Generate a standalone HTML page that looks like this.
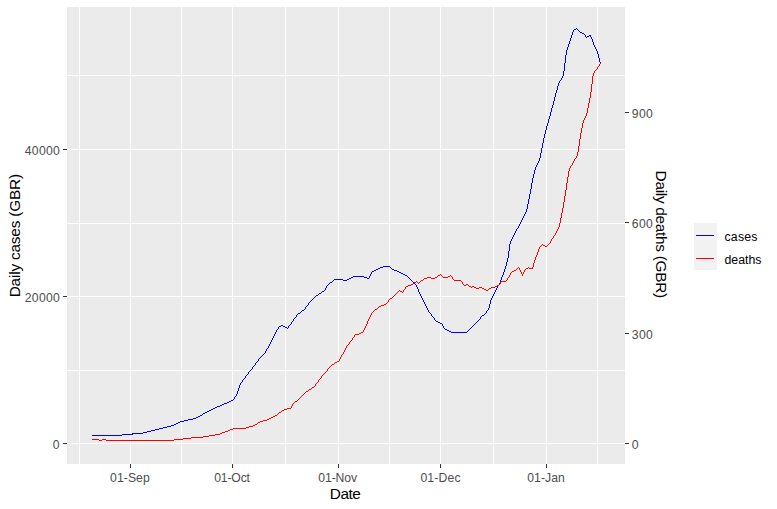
<!DOCTYPE html>
<html><head><meta charset="utf-8"><title>plot</title>
<style>
html,body{margin:0;padding:0;background:#fff;}
body{width:777px;height:509px;overflow:hidden;}
svg{display:block;font-family:"Liberation Sans",sans-serif;}
.ax{font-size:12.2px;fill:#4d4d4d;}
.ti{font-size:15.4px;fill:#000;}
.lg{font-size:12.3px;fill:#000;}
</style></head><body>
<svg width="777" height="509" viewBox="0 0 777 509">
<rect x="0" y="0" width="777" height="509" fill="#ffffff"/>
<g shape-rendering="crispEdges">
<rect x="67" y="7" width="558" height="457" fill="#ebebeb"/>
<rect x="67" y="370" width="558" height="1" fill="#fff"/>
<rect x="67" y="223" width="558" height="1" fill="#fff"/>
<rect x="67" y="75" width="558" height="1" fill="#fff"/>
<rect x="67" y="443" width="558" height="1" fill="#fff"/>
<rect x="67" y="296" width="558" height="1" fill="#fff"/>
<rect x="67" y="149" width="558" height="1" fill="#fff"/>
<rect x="79" y="7" width="1" height="457" fill="#fff"/>
<rect x="181" y="7" width="1" height="457" fill="#fff"/>
<rect x="285" y="7" width="1" height="457" fill="#fff"/>
<rect x="389" y="7" width="1" height="457" fill="#fff"/>
<rect x="493" y="7" width="1" height="457" fill="#fff"/>
<rect x="597" y="7" width="1" height="457" fill="#fff"/>
<rect x="130" y="7" width="1" height="457" fill="#fff"/>
<rect x="232" y="7" width="1" height="457" fill="#fff"/>
<rect x="338" y="7" width="1" height="457" fill="#fff"/>
<rect x="440" y="7" width="1" height="457" fill="#fff"/>
<rect x="546" y="7" width="1" height="457" fill="#fff"/>
<rect x="63" y="443" width="4" height="1" fill="#333"/>
<rect x="63" y="296" width="4" height="1" fill="#333"/>
<rect x="63" y="149" width="4" height="1" fill="#333"/>
<rect x="625" y="443" width="4" height="1" fill="#333"/>
<rect x="625" y="333" width="4" height="1" fill="#333"/>
<rect x="625" y="222" width="4" height="1" fill="#333"/>
<rect x="625" y="112" width="4" height="1" fill="#333"/>
<rect x="130" y="464" width="1" height="4" fill="#333"/>
<rect x="232" y="464" width="1" height="4" fill="#333"/>
<rect x="338" y="464" width="1" height="4" fill="#333"/>
<rect x="440" y="464" width="1" height="4" fill="#333"/>
<rect x="546" y="464" width="1" height="4" fill="#333"/>
<rect x="694" y="223" width="23" height="47" fill="#f2f2f2"/>
<rect x="696" y="235" width="18" height="1" fill="#0000ff"/>
<rect x="696" y="258" width="18" height="1" fill="#ff0000"/>
<path d="M576 28h1v1h-1zM574 29h2v1h-2zM577 29h1v1h-1zM573 30h1v1h-1zM578 30h1v1h-1zM573 31h1v1h-1zM579 31h1v1h-1zM572 32h1v1h-1zM580 32h2v1h-2zM572 33h1v1h-1zM582 33h2v1h-2zM572 34h1v1h-1zM584 34h1v1h-1zM571 35h1v1h-1zM585 35h1v1h-1zM589 35h2v1h-2zM571 36h1v1h-1zM585 36h1v1h-1zM587 36h2v1h-2zM590 36h1v1h-1zM571 37h1v1h-1zM586 37h1v1h-1zM591 37h1v1h-1zM570 38h1v1h-1zM591 38h1v1h-1zM570 39h1v1h-1zM592 39h1v1h-1zM570 40h1v1h-1zM592 40h1v1h-1zM569 41h1v1h-1zM592 41h1v1h-1zM569 42h1v1h-1zM593 42h1v1h-1zM569 43h1v1h-1zM593 43h1v1h-1zM568 44h1v1h-1zM593 44h1v1h-1zM568 45h1v1h-1zM594 45h1v1h-1zM568 46h1v1h-1zM594 46h1v1h-1zM567 47h1v1h-1zM595 47h1v1h-1zM567 48h1v1h-1zM595 48h1v1h-1zM567 49h1v1h-1zM596 49h1v1h-1zM566 50h1v1h-1zM596 50h1v1h-1zM566 51h1v1h-1zM597 51h1v1h-1zM566 52h1v1h-1zM597 52h1v1h-1zM566 53h1v1h-1zM597 53h1v1h-1zM566 54h1v1h-1zM598 54h1v1h-1zM565 55h1v1h-1zM598 55h1v1h-1zM565 56h1v1h-1zM598 56h1v1h-1zM565 57h1v1h-1zM598 57h1v1h-1zM565 58h1v1h-1zM599 58h1v1h-1zM565 59h1v1h-1zM599 59h1v1h-1zM565 60h1v1h-1zM599 60h1v1h-1zM565 61h1v1h-1zM599 61h1v1h-1zM565 62h1v1h-1zM600 62h1v1h-1zM564 63h1v1h-1zM600 63h1v1h-1zM564 64h1v1h-1zM564 65h1v1h-1zM564 66h1v1h-1zM564 67h1v1h-1zM564 68h1v1h-1zM564 69h1v1h-1zM564 70h1v1h-1zM563 71h1v1h-1zM563 72h1v1h-1zM563 73h1v1h-1zM563 74h1v1h-1zM563 75h1v1h-1zM562 76h1v1h-1zM562 77h1v1h-1zM561 78h1v1h-1zM561 79h1v1h-1zM560 80h1v1h-1zM559 81h1v1h-1zM559 82h1v1h-1zM558 83h1v1h-1zM558 84h1v1h-1zM558 85h1v1h-1zM557 86h1v1h-1zM557 87h1v1h-1zM557 88h1v1h-1zM557 89h1v1h-1zM556 90h1v1h-1zM556 91h1v1h-1zM556 92h1v1h-1zM555 93h1v1h-1zM555 94h1v1h-1zM555 95h1v1h-1zM555 96h1v1h-1zM554 97h1v1h-1zM554 98h1v1h-1zM554 99h1v1h-1zM554 100h1v1h-1zM553 101h1v1h-1zM553 102h1v1h-1zM553 103h1v1h-1zM553 104h1v1h-1zM552 105h1v1h-1zM552 106h1v1h-1zM552 107h1v1h-1zM551 108h1v1h-1zM551 109h1v1h-1zM551 110h1v1h-1zM551 111h1v1h-1zM550 112h1v1h-1zM550 113h1v1h-1zM550 114h1v1h-1zM550 115h1v1h-1zM549 116h1v1h-1zM549 117h1v1h-1zM549 118h1v1h-1zM548 119h1v1h-1zM548 120h1v1h-1zM548 121h1v1h-1zM548 122h1v1h-1zM547 123h1v1h-1zM547 124h1v1h-1zM547 125h1v1h-1zM546 126h1v1h-1zM546 127h1v1h-1zM546 128h1v1h-1zM546 129h1v1h-1zM545 130h1v1h-1zM545 131h1v1h-1zM545 132h1v1h-1zM545 133h1v1h-1zM544 134h1v1h-1zM544 135h1v1h-1zM544 136h1v1h-1zM544 137h1v1h-1zM543 138h1v1h-1zM543 139h1v1h-1zM543 140h1v1h-1zM543 141h1v1h-1zM543 142h1v1h-1zM542 143h1v1h-1zM542 144h1v1h-1zM542 145h1v1h-1zM542 146h1v1h-1zM542 147h1v1h-1zM541 148h1v1h-1zM541 149h1v1h-1zM541 150h1v1h-1zM541 151h1v1h-1zM541 152h1v1h-1zM540 153h1v1h-1zM540 154h1v1h-1zM540 155h1v1h-1zM540 156h1v1h-1zM540 157h1v1h-1zM539 158h1v1h-1zM539 159h1v1h-1zM539 160h1v1h-1zM538 161h1v1h-1zM538 162h1v1h-1zM537 163h1v1h-1zM537 164h1v1h-1zM536 165h1v1h-1zM536 166h1v1h-1zM535 167h1v1h-1zM535 168h1v1h-1zM535 169h1v1h-1zM534 170h1v1h-1zM534 171h1v1h-1zM534 172h1v1h-1zM534 173h1v1h-1zM533 174h1v1h-1zM533 175h1v1h-1zM533 176h1v1h-1zM533 177h1v1h-1zM532 178h1v1h-1zM532 179h1v1h-1zM532 180h1v1h-1zM532 181h1v1h-1zM532 182h1v1h-1zM531 183h1v1h-1zM531 184h1v1h-1zM531 185h1v1h-1zM531 186h1v1h-1zM531 187h1v1h-1zM531 188h1v1h-1zM530 189h1v1h-1zM530 190h1v1h-1zM530 191h1v1h-1zM530 192h1v1h-1zM530 193h1v1h-1zM529 194h1v1h-1zM529 195h1v1h-1zM529 196h1v1h-1zM529 197h1v1h-1zM529 198h1v1h-1zM528 199h1v1h-1zM528 200h1v1h-1zM528 201h1v1h-1zM528 202h1v1h-1zM528 203h1v1h-1zM527 204h1v1h-1zM527 205h1v1h-1zM527 206h1v1h-1zM527 207h1v1h-1zM527 208h1v1h-1zM526 209h1v1h-1zM526 210h1v1h-1zM526 211h1v1h-1zM525 212h1v1h-1zM525 213h1v1h-1zM524 214h1v1h-1zM524 215h1v1h-1zM523 216h1v1h-1zM523 217h1v1h-1zM522 218h1v1h-1zM522 219h1v1h-1zM521 220h1v1h-1zM521 221h1v1h-1zM520 222h1v1h-1zM520 223h1v1h-1zM519 224h1v1h-1zM519 225h1v1h-1zM518 226h1v1h-1zM518 227h1v1h-1zM517 228h1v1h-1zM516 229h1v1h-1zM516 230h1v1h-1zM515 231h1v1h-1zM515 232h1v1h-1zM514 233h1v1h-1zM514 234h1v1h-1zM513 235h1v1h-1zM513 236h1v1h-1zM512 237h1v1h-1zM512 238h1v1h-1zM511 239h1v1h-1zM511 240h1v1h-1zM510 241h1v1h-1zM510 242h1v1h-1zM510 243h1v1h-1zM509 244h1v1h-1zM509 245h1v1h-1zM509 246h1v1h-1zM509 247h1v1h-1zM509 248h1v1h-1zM509 249h1v1h-1zM509 250h1v1h-1zM508 251h1v1h-1zM508 252h1v1h-1zM508 253h1v1h-1zM508 254h1v1h-1zM508 255h1v1h-1zM508 256h1v1h-1zM508 257h1v1h-1zM507 258h1v1h-1zM507 259h1v1h-1zM507 260h1v1h-1zM507 261h1v1h-1zM506 262h1v1h-1zM506 263h1v1h-1zM506 264h1v1h-1zM506 265h1v1h-1zM383 266h7v1h-7zM505 266h1v1h-1zM380 267h3v1h-3zM390 267h1v1h-1zM505 267h1v1h-1zM378 268h2v1h-2zM391 268h1v1h-1zM505 268h1v1h-1zM376 269h2v1h-2zM392 269h2v1h-2zM504 269h1v1h-1zM374 270h2v1h-2zM394 270h3v1h-3zM504 270h1v1h-1zM372 271h2v1h-2zM397 271h2v1h-2zM504 271h1v1h-1zM371 272h1v1h-1zM399 272h2v1h-2zM503 272h1v1h-1zM371 273h1v1h-1zM401 273h2v1h-2zM503 273h1v1h-1zM370 274h1v1h-1zM403 274h2v1h-2zM503 274h1v1h-1zM370 275h1v1h-1zM405 275h2v1h-2zM502 275h1v1h-1zM353 276h11v1h-11zM369 276h1v1h-1zM407 276h1v1h-1zM502 276h1v1h-1zM351 277h2v1h-2zM364 277h3v1h-3zM369 277h1v1h-1zM408 277h1v1h-1zM501 277h1v1h-1zM349 278h2v1h-2zM367 278h2v1h-2zM409 278h1v1h-1zM501 278h1v1h-1zM334 279h9v1h-9zM347 279h2v1h-2zM410 279h1v1h-1zM501 279h1v1h-1zM333 280h1v1h-1zM343 280h4v1h-4zM411 280h1v1h-1zM500 280h1v1h-1zM332 281h1v1h-1zM412 281h1v1h-1zM500 281h1v1h-1zM330 282h2v1h-2zM413 282h1v1h-1zM500 282h1v1h-1zM329 283h1v1h-1zM414 283h1v1h-1zM499 283h1v1h-1zM328 284h1v1h-1zM415 284h1v1h-1zM499 284h1v1h-1zM327 285h1v1h-1zM416 285h1v1h-1zM498 285h1v1h-1zM326 286h1v1h-1zM416 286h1v1h-1zM497 286h1v1h-1zM326 287h1v1h-1zM417 287h1v1h-1zM497 287h1v1h-1zM325 288h1v1h-1zM417 288h1v1h-1zM496 288h1v1h-1zM325 289h1v1h-1zM418 289h1v1h-1zM496 289h1v1h-1zM324 290h1v1h-1zM418 290h1v1h-1zM495 290h1v1h-1zM322 291h2v1h-2zM418 291h1v1h-1zM495 291h1v1h-1zM321 292h1v1h-1zM419 292h1v1h-1zM494 292h1v1h-1zM319 293h2v1h-2zM419 293h1v1h-1zM494 293h1v1h-1zM318 294h1v1h-1zM420 294h1v1h-1zM493 294h1v1h-1zM316 295h2v1h-2zM420 295h1v1h-1zM493 295h1v1h-1zM315 296h1v1h-1zM421 296h1v1h-1zM492 296h1v1h-1zM314 297h1v1h-1zM421 297h1v1h-1zM492 297h1v1h-1zM313 298h1v1h-1zM422 298h1v1h-1zM491 298h1v1h-1zM312 299h1v1h-1zM422 299h1v1h-1zM491 299h1v1h-1zM311 300h1v1h-1zM423 300h1v1h-1zM490 300h1v1h-1zM310 301h1v1h-1zM423 301h1v1h-1zM490 301h1v1h-1zM309 302h1v1h-1zM424 302h1v1h-1zM490 302h1v1h-1zM308 303h1v1h-1zM424 303h1v1h-1zM490 303h1v1h-1zM308 304h1v1h-1zM425 304h1v1h-1zM489 304h1v1h-1zM307 305h1v1h-1zM425 305h1v1h-1zM489 305h1v1h-1zM306 306h1v1h-1zM426 306h1v1h-1zM489 306h1v1h-1zM305 307h1v1h-1zM426 307h1v1h-1zM489 307h1v1h-1zM305 308h1v1h-1zM427 308h1v1h-1zM488 308h1v1h-1zM304 309h1v1h-1zM427 309h1v1h-1zM488 309h1v1h-1zM302 310h2v1h-2zM428 310h1v1h-1zM487 310h1v1h-1zM301 311h1v1h-1zM428 311h1v1h-1zM486 311h1v1h-1zM300 312h1v1h-1zM429 312h1v1h-1zM486 312h1v1h-1zM298 313h2v1h-2zM430 313h1v1h-1zM485 313h1v1h-1zM297 314h1v1h-1zM431 314h1v1h-1zM484 314h1v1h-1zM296 315h1v1h-1zM431 315h1v1h-1zM482 315h2v1h-2zM296 316h1v1h-1zM432 316h1v1h-1zM481 316h1v1h-1zM295 317h1v1h-1zM433 317h1v1h-1zM480 317h1v1h-1zM294 318h1v1h-1zM434 318h1v1h-1zM480 318h1v1h-1zM293 319h1v1h-1zM434 319h1v1h-1zM479 319h1v1h-1zM293 320h1v1h-1zM435 320h1v1h-1zM478 320h1v1h-1zM292 321h1v1h-1zM436 321h2v1h-2zM477 321h1v1h-1zM291 322h1v1h-1zM438 322h2v1h-2zM476 322h1v1h-1zM291 323h1v1h-1zM440 323h2v1h-2zM475 323h1v1h-1zM290 324h1v1h-1zM442 324h1v1h-1zM474 324h1v1h-1zM281 325h2v1h-2zM289 325h1v1h-1zM442 325h1v1h-1zM473 325h1v1h-1zM279 326h2v1h-2zM283 326h2v1h-2zM288 326h1v1h-1zM443 326h1v1h-1zM472 326h1v1h-1zM278 327h1v1h-1zM285 327h2v1h-2zM288 327h1v1h-1zM443 327h1v1h-1zM471 327h1v1h-1zM278 328h1v1h-1zM287 328h1v1h-1zM444 328h1v1h-1zM470 328h1v1h-1zM277 329h1v1h-1zM445 329h2v1h-2zM469 329h1v1h-1zM276 330h1v1h-1zM447 330h2v1h-2zM468 330h1v1h-1zM276 331h1v1h-1zM449 331h2v1h-2zM467 331h1v1h-1zM275 332h1v1h-1zM451 332h16v1h-16zM275 333h1v1h-1zM274 334h1v1h-1zM274 335h1v1h-1zM273 336h1v1h-1zM273 337h1v1h-1zM272 338h1v1h-1zM272 339h1v1h-1zM271 340h1v1h-1zM271 341h1v1h-1zM270 342h1v1h-1zM270 343h1v1h-1zM269 344h1v1h-1zM269 345h1v1h-1zM268 346h1v1h-1zM268 347h1v1h-1zM267 348h1v1h-1zM266 349h1v1h-1zM266 350h1v1h-1zM265 351h1v1h-1zM265 352h1v1h-1zM264 353h1v1h-1zM263 354h1v1h-1zM262 355h1v1h-1zM261 356h1v1h-1zM260 357h1v1h-1zM259 358h1v1h-1zM258 359h1v1h-1zM258 360h1v1h-1zM257 361h1v1h-1zM256 362h1v1h-1zM255 363h1v1h-1zM255 364h1v1h-1zM254 365h1v1h-1zM253 366h1v1h-1zM252 367h1v1h-1zM252 368h1v1h-1zM251 369h1v1h-1zM250 370h1v1h-1zM249 371h1v1h-1zM248 372h1v1h-1zM248 373h1v1h-1zM247 374h1v1h-1zM246 375h1v1h-1zM245 376h1v1h-1zM245 377h1v1h-1zM244 378h1v1h-1zM243 379h1v1h-1zM242 380h1v1h-1zM242 381h1v1h-1zM241 382h1v1h-1zM240 383h1v1h-1zM240 384h1v1h-1zM239 385h1v1h-1zM239 386h1v1h-1zM239 387h1v1h-1zM238 388h1v1h-1zM238 389h1v1h-1zM238 390h1v1h-1zM237 391h1v1h-1zM237 392h1v1h-1zM237 393h1v1h-1zM236 394h1v1h-1zM236 395h1v1h-1zM235 396h1v1h-1zM234 397h1v1h-1zM234 398h1v1h-1zM233 399h1v1h-1zM231 400h2v1h-2zM229 401h2v1h-2zM227 402h2v1h-2zM224 403h3v1h-3zM222 404h2v1h-2zM220 405h2v1h-2zM217 406h3v1h-3zM215 407h2v1h-2zM213 408h2v1h-2zM211 409h2v1h-2zM209 410h2v1h-2zM207 411h2v1h-2zM205 412h2v1h-2zM203 413h2v1h-2zM202 414h1v1h-1zM200 415h2v1h-2zM198 416h2v1h-2zM196 417h2v1h-2zM193 418h3v1h-3zM188 419h5v1h-5zM184 420h4v1h-4zM180 421h4v1h-4zM178 422h2v1h-2zM176 423h2v1h-2zM174 424h2v1h-2zM171 425h3v1h-3zM167 426h4v1h-4zM163 427h4v1h-4zM159 428h4v1h-4zM155 429h4v1h-4zM151 430h4v1h-4zM147 431h4v1h-4zM143 432h4v1h-4zM132 433h11v1h-11zM122 434h11v1h-11zM92 435h30v1h-30z" fill="#0000ff"/>
<path d="M600 63h1v1h-1zM599 64h1v1h-1zM599 65h1v1h-1zM598 66h1v1h-1zM597 67h1v1h-1zM597 68h1v1h-1zM596 69h1v1h-1zM595 70h1v1h-1zM594 71h1v1h-1zM594 72h1v1h-1zM593 73h1v1h-1zM593 74h1v1h-1zM593 75h1v1h-1zM592 76h1v1h-1zM592 77h1v1h-1zM592 78h1v1h-1zM592 79h1v1h-1zM592 80h1v1h-1zM592 81h1v1h-1zM592 82h1v1h-1zM592 83h1v1h-1zM591 84h1v1h-1zM591 85h1v1h-1zM591 86h1v1h-1zM591 87h1v1h-1zM591 88h1v1h-1zM591 89h1v1h-1zM591 90h1v1h-1zM591 91h1v1h-1zM590 92h1v1h-1zM590 93h1v1h-1zM590 94h1v1h-1zM590 95h1v1h-1zM590 96h1v1h-1zM590 97h1v1h-1zM589 98h1v1h-1zM589 99h1v1h-1zM589 100h1v1h-1zM589 101h1v1h-1zM589 102h1v1h-1zM588 103h1v1h-1zM588 104h1v1h-1zM588 105h1v1h-1zM588 106h1v1h-1zM588 107h1v1h-1zM587 108h1v1h-1zM587 109h1v1h-1zM587 110h1v1h-1zM587 111h1v1h-1zM587 112h1v1h-1zM586 113h1v1h-1zM586 114h1v1h-1zM586 115h1v1h-1zM585 116h1v1h-1zM585 117h1v1h-1zM584 118h1v1h-1zM584 119h1v1h-1zM583 120h1v1h-1zM583 121h1v1h-1zM583 122h1v1h-1zM582 123h1v1h-1zM582 124h1v1h-1zM582 125h1v1h-1zM582 126h1v1h-1zM582 127h1v1h-1zM581 128h1v1h-1zM581 129h1v1h-1zM581 130h1v1h-1zM581 131h1v1h-1zM581 132h1v1h-1zM580 133h1v1h-1zM580 134h1v1h-1zM580 135h1v1h-1zM580 136h1v1h-1zM580 137h1v1h-1zM580 138h1v1h-1zM579 139h1v1h-1zM579 140h1v1h-1zM579 141h1v1h-1zM579 142h1v1h-1zM579 143h1v1h-1zM579 144h1v1h-1zM579 145h1v1h-1zM578 146h1v1h-1zM578 147h1v1h-1zM578 148h1v1h-1zM578 149h1v1h-1zM578 150h1v1h-1zM578 151h1v1h-1zM577 152h1v1h-1zM577 153h1v1h-1zM577 154h1v1h-1zM577 155h1v1h-1zM576 156h1v1h-1zM576 157h1v1h-1zM575 158h1v1h-1zM574 159h1v1h-1zM574 160h1v1h-1zM573 161h1v1h-1zM573 162h1v1h-1zM572 163h1v1h-1zM572 164h1v1h-1zM571 165h1v1h-1zM570 166h1v1h-1zM570 167h1v1h-1zM569 168h1v1h-1zM569 169h1v1h-1zM569 170h1v1h-1zM568 171h1v1h-1zM568 172h1v1h-1zM568 173h1v1h-1zM568 174h1v1h-1zM568 175h1v1h-1zM568 176h1v1h-1zM567 177h1v1h-1zM567 178h1v1h-1zM567 179h1v1h-1zM567 180h1v1h-1zM567 181h1v1h-1zM567 182h1v1h-1zM566 183h1v1h-1zM566 184h1v1h-1zM566 185h1v1h-1zM566 186h1v1h-1zM566 187h1v1h-1zM566 188h1v1h-1zM566 189h1v1h-1zM565 190h1v1h-1zM565 191h1v1h-1zM565 192h1v1h-1zM565 193h1v1h-1zM565 194h1v1h-1zM565 195h1v1h-1zM564 196h1v1h-1zM564 197h1v1h-1zM564 198h1v1h-1zM564 199h1v1h-1zM564 200h1v1h-1zM564 201h1v1h-1zM563 202h1v1h-1zM563 203h1v1h-1zM563 204h1v1h-1zM563 205h1v1h-1zM563 206h1v1h-1zM563 207h1v1h-1zM562 208h1v1h-1zM562 209h1v1h-1zM562 210h1v1h-1zM562 211h1v1h-1zM562 212h1v1h-1zM561 213h1v1h-1zM561 214h1v1h-1zM561 215h1v1h-1zM561 216h1v1h-1zM561 217h1v1h-1zM560 218h1v1h-1zM560 219h1v1h-1zM560 220h1v1h-1zM560 221h1v1h-1zM560 222h1v1h-1zM559 223h1v1h-1zM559 224h1v1h-1zM559 225h1v1h-1zM559 226h1v1h-1zM558 227h1v1h-1zM558 228h1v1h-1zM557 229h1v1h-1zM557 230h1v1h-1zM556 231h1v1h-1zM556 232h1v1h-1zM555 233h1v1h-1zM555 234h1v1h-1zM554 235h1v1h-1zM553 236h1v1h-1zM553 237h1v1h-1zM552 238h1v1h-1zM551 239h1v1h-1zM551 240h1v1h-1zM550 241h1v1h-1zM550 242h1v1h-1zM549 243h1v1h-1zM542 244h1v1h-1zM548 244h1v1h-1zM541 245h1v1h-1zM543 245h2v1h-2zM547 245h1v1h-1zM540 246h1v1h-1zM545 246h2v1h-2zM539 247h1v1h-1zM539 248h1v1h-1zM538 249h1v1h-1zM538 250h1v1h-1zM538 251h1v1h-1zM537 252h1v1h-1zM537 253h1v1h-1zM537 254h1v1h-1zM536 255h1v1h-1zM536 256h1v1h-1zM535 257h1v1h-1zM535 258h1v1h-1zM535 259h1v1h-1zM534 260h1v1h-1zM534 261h1v1h-1zM534 262h1v1h-1zM533 263h1v1h-1zM533 264h1v1h-1zM533 265h1v1h-1zM533 266h1v1h-1zM518 267h1v1h-1zM528 267h1v1h-1zM532 267h1v1h-1zM517 268h1v1h-1zM519 268h1v1h-1zM526 268h2v1h-2zM529 268h4v1h-4zM516 269h1v1h-1zM519 269h1v1h-1zM525 269h1v1h-1zM514 270h2v1h-2zM520 270h1v1h-1zM524 270h1v1h-1zM512 271h2v1h-2zM520 271h1v1h-1zM524 271h1v1h-1zM511 272h1v1h-1zM521 272h1v1h-1zM523 272h1v1h-1zM510 273h1v1h-1zM521 273h1v1h-1zM523 273h1v1h-1zM440 274h1v1h-1zM510 274h1v1h-1zM522 274h1v1h-1zM438 275h2v1h-2zM441 275h1v1h-1zM450 275h1v1h-1zM509 275h1v1h-1zM522 275h1v1h-1zM437 276h1v1h-1zM442 276h1v1h-1zM448 276h2v1h-2zM451 276h1v1h-1zM509 276h1v1h-1zM427 277h4v1h-4zM435 277h2v1h-2zM443 277h5v1h-5zM452 277h1v1h-1zM508 277h1v1h-1zM424 278h3v1h-3zM431 278h4v1h-4zM452 278h1v1h-1zM507 278h1v1h-1zM423 279h1v1h-1zM453 279h1v1h-1zM507 279h1v1h-1zM421 280h2v1h-2zM454 280h7v1h-7zM506 280h1v1h-1zM416 281h1v1h-1zM420 281h1v1h-1zM461 281h1v1h-1zM501 281h5v1h-5zM414 282h2v1h-2zM417 282h1v1h-1zM419 282h1v1h-1zM462 282h1v1h-1zM500 282h1v1h-1zM413 283h1v1h-1zM418 283h1v1h-1zM462 283h1v1h-1zM500 283h1v1h-1zM411 284h2v1h-2zM463 284h1v1h-1zM466 284h2v1h-2zM499 284h1v1h-1zM408 285h3v1h-3zM464 285h2v1h-2zM468 285h1v1h-1zM497 285h2v1h-2zM406 286h2v1h-2zM469 286h2v1h-2zM472 286h2v1h-2zM495 286h2v1h-2zM405 287h1v1h-1zM471 287h1v1h-1zM474 287h2v1h-2zM479 287h3v1h-3zM491 287h4v1h-4zM405 288h1v1h-1zM476 288h3v1h-3zM482 288h2v1h-2zM489 288h2v1h-2zM404 289h1v1h-1zM484 289h2v1h-2zM488 289h1v1h-1zM399 290h1v1h-1zM403 290h1v1h-1zM486 290h2v1h-2zM398 291h1v1h-1zM400 291h2v1h-2zM403 291h1v1h-1zM397 292h1v1h-1zM402 292h1v1h-1zM396 293h1v1h-1zM395 294h1v1h-1zM394 295h1v1h-1zM393 296h1v1h-1zM392 297h1v1h-1zM390 298h2v1h-2zM389 299h1v1h-1zM388 300h1v1h-1zM388 301h1v1h-1zM387 302h1v1h-1zM386 303h1v1h-1zM384 304h2v1h-2zM381 305h3v1h-3zM379 306h2v1h-2zM378 307h1v1h-1zM377 308h1v1h-1zM375 309h2v1h-2zM374 310h1v1h-1zM373 311h1v1h-1zM372 312h1v1h-1zM371 313h1v1h-1zM371 314h1v1h-1zM370 315h1v1h-1zM370 316h1v1h-1zM369 317h1v1h-1zM369 318h1v1h-1zM368 319h1v1h-1zM368 320h1v1h-1zM367 321h1v1h-1zM367 322h1v1h-1zM367 323h1v1h-1zM366 324h1v1h-1zM366 325h1v1h-1zM365 326h1v1h-1zM365 327h1v1h-1zM364 328h1v1h-1zM364 329h1v1h-1zM363 330h1v1h-1zM363 331h1v1h-1zM361 332h2v1h-2zM359 333h2v1h-2zM355 334h4v1h-4zM354 335h1v1h-1zM354 336h1v1h-1zM353 337h1v1h-1zM352 338h1v1h-1zM352 339h1v1h-1zM351 340h1v1h-1zM350 341h1v1h-1zM349 342h1v1h-1zM349 343h1v1h-1zM348 344h1v1h-1zM347 345h1v1h-1zM346 346h1v1h-1zM346 347h1v1h-1zM345 348h1v1h-1zM345 349h1v1h-1zM344 350h1v1h-1zM344 351h1v1h-1zM343 352h1v1h-1zM343 353h1v1h-1zM342 354h1v1h-1zM341 355h1v1h-1zM341 356h1v1h-1zM340 357h1v1h-1zM340 358h1v1h-1zM339 359h1v1h-1zM339 360h1v1h-1zM337 361h2v1h-2zM335 362h2v1h-2zM334 363h1v1h-1zM332 364h2v1h-2zM331 365h1v1h-1zM330 366h1v1h-1zM329 367h1v1h-1zM328 368h1v1h-1zM327 369h1v1h-1zM327 370h1v1h-1zM326 371h1v1h-1zM325 372h1v1h-1zM324 373h1v1h-1zM323 374h1v1h-1zM322 375h1v1h-1zM321 376h1v1h-1zM321 377h1v1h-1zM320 378h1v1h-1zM319 379h1v1h-1zM318 380h1v1h-1zM318 381h1v1h-1zM317 382h1v1h-1zM316 383h1v1h-1zM315 384h1v1h-1zM315 385h1v1h-1zM314 386h1v1h-1zM312 387h2v1h-2zM311 388h1v1h-1zM309 389h2v1h-2zM308 390h1v1h-1zM306 391h2v1h-2zM305 392h1v1h-1zM304 393h1v1h-1zM303 394h1v1h-1zM302 395h1v1h-1zM301 396h1v1h-1zM300 397h1v1h-1zM299 398h1v1h-1zM298 399h1v1h-1zM297 400h1v1h-1zM295 401h2v1h-2zM294 402h1v1h-1zM293 403h1v1h-1zM292 404h1v1h-1zM292 405h1v1h-1zM291 406h1v1h-1zM291 407h1v1h-1zM287 408h4v1h-4zM284 409h3v1h-3zM282 410h2v1h-2zM281 411h1v1h-1zM279 412h2v1h-2zM278 413h1v1h-1zM277 414h1v1h-1zM275 415h2v1h-2zM273 416h2v1h-2zM271 417h2v1h-2zM269 418h2v1h-2zM267 419h2v1h-2zM263 420h4v1h-4zM260 421h3v1h-3zM258 422h2v1h-2zM257 423h1v1h-1zM255 424h2v1h-2zM253 425h2v1h-2zM249 426h4v1h-4zM246 427h3v1h-3zM233 428h13v1h-13zM230 429h3v1h-3zM228 430h2v1h-2zM225 431h3v1h-3zM222 432h3v1h-3zM220 433h2v1h-2zM215 434h5v1h-5zM209 435h6v1h-6zM203 436h6v1h-6zM191 437h12v1h-12zM183 438h8v1h-8zM92 439h7v1h-7zM102 439h4v1h-4zM174 439h9v1h-9zM99 440h3v1h-3zM106 440h68v1h-68z" fill="#ff0000"/>
</g>
<text class="ax" x="52.8" y="449.1" textLength="7" lengthAdjust="spacing">0</text>
<text class="ax" x="24.799999999999997" y="302.1" textLength="35" lengthAdjust="spacing">20000</text>
<text class="ax" x="24.799999999999997" y="155.1" textLength="35" lengthAdjust="spacing">40000</text>
<text class="ax" x="631.8" y="449.1" textLength="7" lengthAdjust="spacing">0</text>
<text class="ax" x="631.8" y="339.1" textLength="21" lengthAdjust="spacing">300</text>
<text class="ax" x="631.8" y="228.1" textLength="21" lengthAdjust="spacing">600</text>
<text class="ax" x="631.8" y="118.1" textLength="21" lengthAdjust="spacing">900</text>
<text class="ax" x="129.9" y="481.5" text-anchor="middle" textLength="39.7" lengthAdjust="spacing">01-Sep</text>
<text class="ax" x="232.1" y="481.5" text-anchor="middle" textLength="35.8" lengthAdjust="spacing">01-Oct</text>
<text class="ax" x="337.7" y="481.5" text-anchor="middle" textLength="38.8" lengthAdjust="spacing">01-Nov</text>
<text class="ax" x="440.5" y="481.5" text-anchor="middle" textLength="40.2" lengthAdjust="spacing">01-Dec</text>
<text class="ax" x="546.0" y="481.5" text-anchor="middle" textLength="37.6" lengthAdjust="spacing">01-Jan</text>
<text class="ti" x="345.3" y="498.6" text-anchor="middle" textLength="31" lengthAdjust="spacing">Date</text>
<text class="ti" transform="translate(20.2,235.6) rotate(-90)" text-anchor="middle" textLength="123.5" lengthAdjust="spacing">Daily cases (GBR)</text>
<text class="ti" transform="translate(656,234.4) rotate(90)" text-anchor="middle" textLength="127.6" lengthAdjust="spacing">Daily deaths (GBR)</text>
<text class="lg" x="724.5" y="241" textLength="33" lengthAdjust="spacing">cases</text>
<text class="lg" x="724.5" y="264">deaths</text>
</svg></body></html>
